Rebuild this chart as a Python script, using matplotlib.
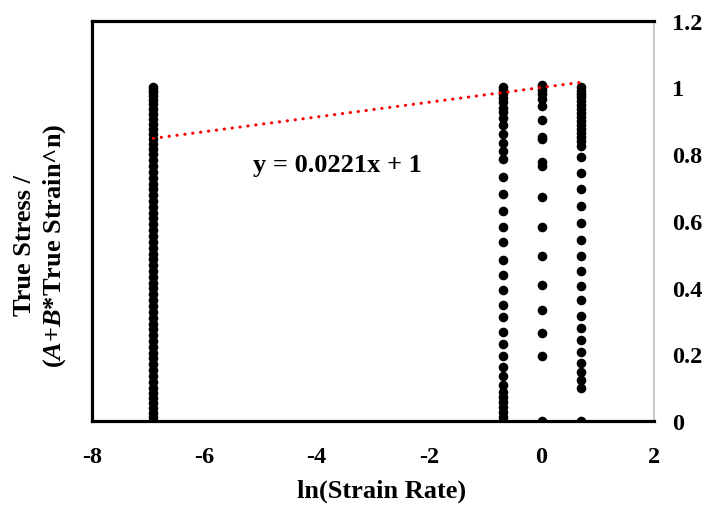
import numpy as np
import matplotlib
matplotlib.use("Agg")
import matplotlib.pyplot as plt

plt.rcParams['font.family'] = ['Liberation Serif', 'DejaVu Serif']
plt.rcParams['font.weight'] = 'bold'
plt.rcParams['axes.unicode_minus'] = False
plt.rcParams['mathtext.fontset'] = 'custom'
plt.rcParams['mathtext.it'] = 'Liberation Serif:italic:bold'
plt.rcParams['mathtext.rm'] = 'Liberation Serif:bold'

# ln of the four strain rates (0.001, 0.5, 1, 2 /s)
ln_rate = [-6.908, -0.693, 0.0, 0.693]

# normalised stress values at each strain rate
ratio_0001 = [0.0, 0.012, 0.025, 0.04, 0.055, 0.07, 0.085, 0.1, 0.118, 0.135,
              0.152, 0.17, 0.188, 0.205, 0.222, 0.24, 0.258, 0.275, 0.292, 0.31,
              0.328, 0.345, 0.362, 0.38, 0.398, 0.415, 0.432, 0.45, 0.468, 0.485,
              0.502, 0.52, 0.538, 0.555, 0.572, 0.59, 0.608, 0.625, 0.642, 0.66,
              0.678, 0.695, 0.712, 0.73, 0.748, 0.765, 0.782, 0.8, 0.815, 0.83,
              0.845, 0.86, 0.875, 0.89, 0.905, 0.92, 0.935, 0.95, 0.963, 0.975,
              0.985, 0.993, 1.0]
ratio_05 = [0.0, 0.011, 0.026, 0.041, 0.056, 0.071, 0.086, 0.108, 0.136, 0.163,
            0.196, 0.231, 0.266, 0.311, 0.348, 0.393, 0.438, 0.483, 0.536, 0.581,
            0.631, 0.681, 0.731, 0.786, 0.811, 0.834, 0.861, 0.886, 0.908, 0.926,
            0.938, 0.956, 0.968, 0.981, 0.991, 1.0]
ratio_1 = [0.0, 0.194, 0.263, 0.334, 0.409, 0.496, 0.583, 0.673, 0.766, 0.776,
           0.844, 0.851, 0.901, 0.944, 0.966, 0.981, 0.991, 1.001, 1.008]
ratio_2 = [0.0, 0.098, 0.123, 0.146, 0.174, 0.208, 0.244, 0.278, 0.316, 0.363,
           0.404, 0.449, 0.496, 0.543, 0.594, 0.646, 0.696, 0.743, 0.791, 0.826,
           0.838, 0.85, 0.862, 0.874, 0.886, 0.898, 0.91, 0.922, 0.934, 0.946,
           0.958, 0.97, 0.98, 0.99, 1.0]
groups = [ratio_0001, ratio_05, ratio_1, ratio_2]

# linear fit shown on the chart
slope = 0.0221
intercept = 1.0

fig = plt.figure(figsize=(7.07, 5.06), dpi=100)
ax = fig.add_axes([0.130, 0.166, 0.795, 0.791])

for xv, vals in zip(ln_rate, groups):
    ax.scatter([xv] * len(vals), vals, s=48, color='black', zorder=3, linewidths=0)

fx = np.array([ln_rate[0], ln_rate[-1]])
ax.plot(fx, slope * fx + intercept, color='red', lw=2.2,
        linestyle=(0, (0.1, 2.5)), dash_capstyle='round', zorder=4)

ax.text(-3.64, 0.77, 'y = %.4fx + %d' % (slope, intercept),
        ha='center', va='center', fontsize=19, fontweight='bold')

ax.set_xlim(-8, 2)
ax.set_ylim(0, 1.2)
ax.set_xticks([-8, -6, -4, -2, 0, 2])
ax.set_yticks([0, 0.2, 0.4, 0.6, 0.8, 1.0, 1.2])
ax.set_yticklabels(['0', '0.2', '0.4', '0.6', '0.8', '1', '1.2'])
ax.yaxis.tick_right()
ax.tick_params(axis='both', length=0, labelsize=17.5)
ax.tick_params(axis='x', pad=18)
ax.tick_params(axis='y', pad=13)
for lab in ax.get_xticklabels() + ax.get_yticklabels():
    lab.set_fontweight('bold')

for side in ['left', 'top', 'bottom']:
    ax.spines[side].set_linewidth(2.3)
    ax.spines[side].set_color('black')
ax.spines['right'].set_linewidth(1.2)
ax.spines['right'].set_color('#bfbfbf')
for sp in ax.spines.values():
    sp.set_zorder(5)

ax.set_xlabel('ln(Strain Rate)', fontsize=19, fontweight='bold')
ax.xaxis.set_label_coords(0.516, -0.143)
fig.text(0.034, 0.514, 'True Stress /', rotation=90, ha='center', va='center',
         fontsize=19, fontweight='bold')
fig.text(0.077, 0.514, '($A$+$B$*True Strain^n)', rotation=90, ha='center',
         va='center', fontsize=19, fontweight='bold')

fig.savefig('out.png', dpi=100)
